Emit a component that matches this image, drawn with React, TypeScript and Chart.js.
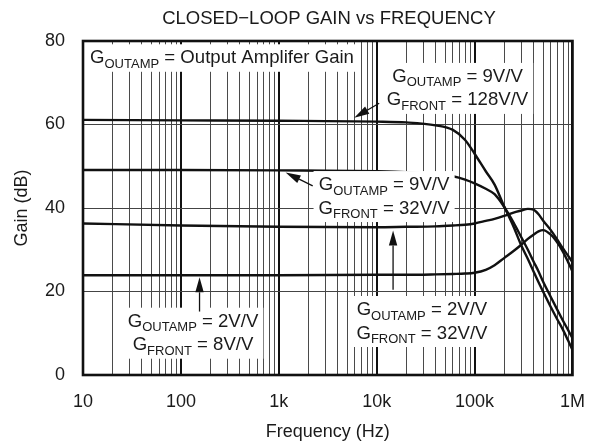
import React, { useEffect, useRef } from 'react';
import { Chart, registerables } from 'chart.js';

Chart.register(...registerables);

// ---------- data ----------
const FREQ = [10, 100, 1000, 10000, 20000, 40000, 60000, 80000, 100000, 130000, 160000, 200000, 250000, 300000, 350000, 400000, 450000, 500000, 600000, 700000, 800000, 900000, 1000000];
const GAIN_OUT9_FRONT128 = [61.1, 61.0, 60.9, 60.7, 60.5, 59.8, 58.7, 56.3, 53.0, 48.8, 45.6, 40.4, 35.5, 31.0, 27.8, 24.8, 22.2, 20.0, 16.3, 13.3, 10.8, 8.3, 6.0];
const GAIN_OUT9_FRONT32 = [49.1, 49.1, 49.0, 48.8, 48.6, 48.1, 47.6, 46.8, 45.9, 44.6, 43.3, 40.3, 36.5, 33.0, 30.0, 27.2, 24.8, 22.4, 18.7, 15.6, 13.0, 10.8, 8.8];
const GAIN_OUT2_FRONT32 = [36.3, 35.8, 35.5, 35.4, 35.5, 35.6, 35.8, 36.0, 36.3, 36.9, 37.4, 38.1, 38.9, 39.4, 39.8, 39.6, 38.5, 37.0, 34.7, 32.4, 30.3, 28.6, 27.0];
const GAIN_OUT2_FRONT8 = [23.9, 23.9, 23.9, 24.0, 24.0, 24.1, 24.2, 24.3, 24.5, 25.2, 26.3, 28.0, 29.7, 31.2, 32.6, 33.6, 34.4, 34.7, 33.6, 31.7, 29.5, 27.1, 24.8];

const X_TICK_VALUES = [10, 100, 1000, 10000, 100000, 1000000];
const X_TICK_LABELS = ['10', '100', '1k', '10k', '100k', '1M'];
const X_MANTISSAS = [1, 2, 3, 4, 5, 6, 7, 8, 9];
const Y_TICKS = [0, 20, 40, 60, 80];

const TITLE = 'CLOSED\u2212LOOP GAIN vs FREQUENCY';
const X_TITLE = 'Frequency (Hz)';
const Y_TITLE = 'Gain (dB)';

type Part = [string, boolean];
// annotation texts; anchor in data space (freq, dB) of the first baseline
const NOTES: { lines: Part[][]; anchor: [number, number]; align: 'left' | 'center' }[] = [
  { lines: [[['G', false], ['OUTAMP', true], [' = Output Amplifer Gain', false]]], anchor: [11.8, 74.66], align: 'left' },
  { lines: [[['G', false], ['OUTAMP', true], [' = 9V/V', false]], [['G', false], ['FRONT', true], [' = 128V/V', false]]], anchor: [66900, 70.2], align: 'center' },
  { lines: [[['G', false], ['OUTAMP', true], [' = 9V/V', false]], [['G', false], ['FRONT', true], [' = 32V/V', false]]], anchor: [11900, 44.3], align: 'center' },
  { lines: [[['G', false], ['OUTAMP', true], [' = 2V/V', false]], [['G', false], ['FRONT', true], [' = 8V/V', false]]], anchor: [133, 11.57], align: 'center' },
  { lines: [[['G', false], ['OUTAMP', true], [' = 2V/V', false]], [['G', false], ['FRONT', true], [' = 32V/V', false]]], anchor: [29000, 14.37], align: 'center' },
];
// arrows: [tailFreq, tailDb, tipFreq, tipDb]
const ARROWS: [number, number, number, number][] = [
  [10600, 65.1, 5900, 61.6],
  [2220, 45.3, 1175, 48.5],
  [155, 15.2, 155, 23.4],
  [14700, 20.4, 14700, 34.6],
];

const FONT = "'Liberation Sans', Arial, Helvetica, sans-serif";
const MAIN_SIZE = 18.6;
const SUB_SIZE = 13;

function isDecade(v: number) {
  return X_TICK_VALUES.some((d) => Math.abs(d - v) < 1e-6 * d);
}

function partsWidth(ctx: CanvasRenderingContext2D, parts: Part[]) {
  let w = 0;
  for (const [t, sub] of parts) {
    ctx.font = `${sub ? SUB_SIZE : MAIN_SIZE}px ${FONT}`;
    w += ctx.measureText(t).width;
  }
  return w;
}

function drawParts(ctx: CanvasRenderingContext2D, parts: Part[], x: number, y: number) {
  let cx = x;
  ctx.textAlign = 'left';
  ctx.textBaseline = 'alphabetic';
  for (const [t, sub] of parts) {
    ctx.font = `${sub ? SUB_SIZE : MAIN_SIZE}px ${FONT}`;
    ctx.fillText(t, cx, sub ? y + 4.5 : y);
    cx += ctx.measureText(t).width;
  }
}

const overlayPlugin = {
  id: 'overlay',
  afterDatasetsDraw(chart: any) {
    const ctx: CanvasRenderingContext2D = chart.ctx;
    const xs = chart.scales.x;
    const ys = chart.scales.y;
    const area = chart.chartArea;
    const lineGap = 23.5;
    ctx.save();
    // annotation boxes + text
    for (const note of NOTES) {
      const ax = xs.getPixelForValue(note.anchor[0]);
      const ay = ys.getPixelForValue(note.anchor[1]);
      const widths = note.lines.map((l) => partsWidth(ctx, l));
      const maxW = Math.max(...widths);
      const left = note.align === 'left' ? ax - 6 : ax - maxW / 2 - 5;
      const right = note.align === 'left' ? ax + maxW + 4 : ax + maxW / 2 + 5;
      const top = ay - 19;
      const bottom = ay + (note.lines.length - 1) * lineGap + 8.5;
      const l0 = Math.max(left, area.left + 1.5);
      ctx.fillStyle = '#ffffff';
      ctx.fillRect(l0, top, right - l0, bottom - top);
      ctx.fillStyle = '#1a1a1a';
      note.lines.forEach((l, i) => {
        const w = widths[i];
        const x0 = note.align === 'left' ? ax : ax - w / 2;
        drawParts(ctx, l, x0, ay + i * lineGap);
      });
    }
    // arrows
    ctx.strokeStyle = '#111';
    ctx.fillStyle = '#111';
    for (const [f0, d0, f1, d1] of ARROWS) {
      const x0 = xs.getPixelForValue(f0);
      const y0 = ys.getPixelForValue(d0);
      const x1 = xs.getPixelForValue(f1);
      const y1 = ys.getPixelForValue(d1);
      const ang = Math.atan2(y1 - y0, x1 - x0);
      const headLen = 15;
      const headW = 4.2;
      const bx = x1 - headLen * Math.cos(ang);
      const by = y1 - headLen * Math.sin(ang);
      ctx.lineWidth = 1.3;
      ctx.beginPath();
      ctx.moveTo(x0, y0);
      ctx.lineTo(bx, by);
      ctx.stroke();
      ctx.beginPath();
      ctx.moveTo(x1, y1);
      ctx.lineTo(bx + headW * Math.sin(ang), by - headW * Math.cos(ang));
      ctx.lineTo(bx - headW * Math.sin(ang), by + headW * Math.cos(ang));
      ctx.closePath();
      ctx.fill();
    }
    // frame
    ctx.lineWidth = 2.6;
    ctx.strokeStyle = '#111';
    ctx.strokeRect(area.left, area.top, area.right - area.left, area.bottom - area.top);
    // title
    ctx.fillStyle = '#1a1a1a';
    ctx.font = `18.5px ${FONT}`;
    ctx.textAlign = 'center';
    ctx.textBaseline = 'alphabetic';
    ctx.fillText(TITLE, 329, 24);
    ctx.restore();
  },
};

export default function App() {
  const ref = useRef<HTMLCanvasElement | null>(null);
  useEffect(() => {
    document.body.style.margin = '0';
    const canvas = ref.current;
    if (!canvas) return;
    const mk = (data: number[], label: string) => ({
      label,
      data: FREQ.map((f, i) => ({ x: f, y: data[i] })),
      borderColor: '#111111',
      borderWidth: 2.4,
      pointRadius: 0,
      fill: false,
      cubicInterpolationMode: 'monotone' as const,
    });
    const chart = new Chart(canvas, {
      type: 'line',
      data: {
        datasets: [
          mk(GAIN_OUT9_FRONT128, 'GOUTAMP = 9V/V, GFRONT = 128V/V'),
          mk(GAIN_OUT9_FRONT32, 'GOUTAMP = 9V/V, GFRONT = 32V/V'),
          mk(GAIN_OUT2_FRONT32, 'GOUTAMP = 2V/V, GFRONT = 32V/V'),
          mk(GAIN_OUT2_FRONT8, 'GOUTAMP = 2V/V, GFRONT = 8V/V'),
        ],
      },
      options: {
        responsive: false,
        animation: false,
        devicePixelRatio: 1,
        layout: { padding: { top: 41, right: 22, left: 0, bottom: 0 } },
        plugins: {
          legend: { display: false },
          title: { display: false },
          tooltip: { enabled: false },
        },
        scales: {
          x: {
            type: 'logarithmic',
            min: 10,
            max: 1000000,
            afterBuildTicks: (scale: any) => {
              const ticks: { value: number }[] = [];
              for (let d = 0; d < X_TICK_VALUES.length; d++) {
                const base = X_TICK_VALUES[d];
                for (const m of X_MANTISSAS) {
                  const v = base * m;
                  if (v <= 1000000 * 1.0001) ticks.push({ value: v });
                }
              }
              scale.ticks = ticks;
            },
            afterFit: (scale: any) => {
              scale.height = 69;
            },
            ticks: {
              autoSkip: false,
              maxRotation: 0,
              minRotation: 0,
              padding: 16,
              color: '#1a1a1a',
              font: { family: FONT, size: 18 },
              callback: (value: any) => {
                const v = Number(value);
                const idx = X_TICK_VALUES.findIndex((d) => Math.abs(d - v) < 1e-6 * d);
                return idx >= 0 ? X_TICK_LABELS[idx] : '';
              },
            },
            grid: {
              drawTicks: false,
              color: (c: any) => (c.tick && isDecade(c.tick.value) ? '#111111' : '#4a4a4a'),
              lineWidth: (c: any) => (c.tick && isDecade(c.tick.value) ? 2 : 1),
            },
            border: { display: false },
            title: {
              display: true,
              text: X_TITLE,
              color: '#1a1a1a',
              font: { family: FONT, size: 18 },
              padding: { top: 0, bottom: 1 },
            },
          },
          y: {
            type: 'linear',
            min: 0,
            max: 80,
            afterBuildTicks: (scale: any) => {
              scale.ticks = Y_TICKS.map((v) => ({ value: v }));
            },
            afterFit: (scale: any) => {
              scale.width = 83;
            },
            ticks: {
              padding: 18,
              color: '#1a1a1a',
              font: { family: FONT, size: 18 },
            },
            grid: {
              drawTicks: false,
              color: '#444444',
              lineWidth: 1,
            },
            border: { display: false },
            title: {
              display: true,
              text: Y_TITLE,
              color: '#1a1a1a',
              font: { family: FONT, size: 18 },
              padding: { top: 11.5, bottom: 0 },
            },
          },
        },
      },
      plugins: [overlayPlugin],
    });
    return () => chart.destroy();
  }, []);
  return (
    <div style={{ width: 601, height: 444 }}>
      <canvas ref={ref} width={601} height={444} style={{ display: 'block' }} />
    </div>
  );
}
